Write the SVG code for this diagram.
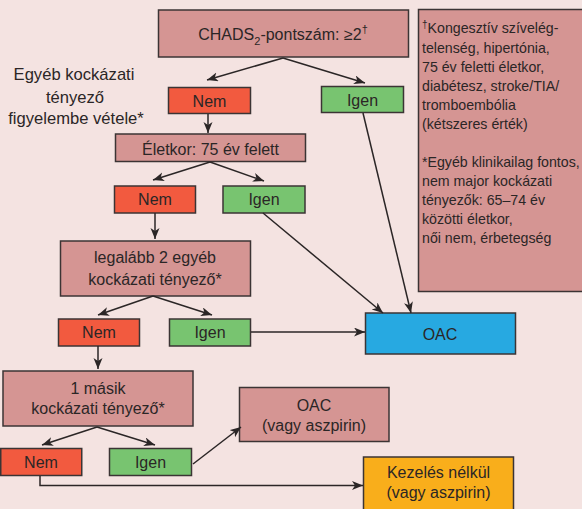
<svg xmlns="http://www.w3.org/2000/svg" width="582" height="509" viewBox="0 0 582 509">
<defs>
<style>
.bg{fill:#f4e3e1}
.box{stroke:#3b3434;stroke-width:1.5}
.pink{fill:#d59593}
.red{fill:#f25a3f}
.green{fill:#78c470}
.blue{fill:#27a9e1}
.orange{fill:#f9ae1b}
text{font-family:"Liberation Sans",Arial,sans-serif;fill:#2b2626}
.t{font-size:16px;text-anchor:middle}
.lbl{font-size:16.6px;text-anchor:middle}
.leg{font-size:14.2px}
.c line,.c polyline{stroke:#2b2626;stroke-width:1.5;fill:none}
</style>
<marker id="ah" markerUnits="userSpaceOnUse" markerWidth="12" markerHeight="10" refX="11" refY="4.5" orient="auto">
<path d="M0,0 L11,4.5 L0,9 L3,4.5 z" fill="#2b2626"/>
</marker>
</defs>
<rect class="bg" x="0" y="0" width="582" height="509"/>

<g id="chads">
<rect class="box pink" x="158.5" y="10" width="250" height="47"/>
<text class="t" x="283" y="40">CHADS<tspan font-size="11" dy="5">2</tspan><tspan dy="-5">-pontszám: ≥2</tspan><tspan font-size="11" dy="-7">†</tspan></text>
</g>

<g id="legend">
<rect class="box pink" x="418.5" y="9.5" width="200" height="282"/>
<text class="leg" x="422" y="33"><tspan font-size="10" dy="-5">†</tspan><tspan dy="5">Kongesztív szívelég-</tspan></text>
<text class="leg" x="422" y="53">telenség, hipertónia,</text>
<text class="leg" x="422" y="72">75 év feletti életkor,</text>
<text class="leg" x="422" y="91">diabétesz, stroke/TIA/</text>
<text class="leg" x="422" y="110">tromboembólia</text>
<text class="leg" x="422" y="129">(kétszeres érték)</text>
<text class="leg" x="422" y="167">*Egyéb klinikailag fontos,</text>
<text class="leg" x="422" y="186">nem major kockázati</text>
<text class="leg" x="422" y="205">tényezők: 65–74 év</text>
<text class="leg" x="422" y="224">közötti életkor,</text>
<text class="leg" x="422" y="243">női nem, érbetegség</text>
</g>

<g id="label-other">
<text class="lbl" x="74" y="80">Egyéb kockázati</text>
<text class="lbl" x="75" y="103">tényező</text>
<text class="lbl" x="76" y="124">figyelembe vétele*</text>
</g>

<g id="nem1">
<rect class="box red" x="168.5" y="87.5" width="82" height="26"/>
<text class="t" x="209.5" y="106.5">Nem</text>
</g>
<g id="igen1">
<rect class="box green" x="321.5" y="86.5" width="82" height="26"/>
<text class="t" x="362.5" y="105.5">Igen</text>
</g>

<g id="eletkor">
<rect class="box pink" x="115.5" y="134" width="190" height="27.5"/>
<text class="t" x="210.5" y="154.5">Életkor: 75 év felett</text>
</g>

<g id="nem2">
<rect class="box red" x="114.5" y="186" width="81" height="27"/>
<text class="t" x="155" y="205">Nem</text>
</g>
<g id="igen2">
<rect class="box green" x="223" y="186" width="82" height="27"/>
<text class="t" x="264" y="205">Igen</text>
</g>

<g id="legalabb">
<rect class="box pink" x="60.5" y="241" width="190" height="55"/>
<text class="t" x="155" y="263">legalább 2 egyéb</text>
<text class="t" x="155" y="285">kockázati tényező*</text>
</g>

<g id="nem3">
<rect class="box red" x="58.5" y="319" width="81" height="27"/>
<text class="t" x="99" y="338">Nem</text>
</g>
<g id="igen3">
<rect class="box green" x="169.5" y="319" width="81" height="27"/>
<text class="t" x="210" y="338">Igen</text>
</g>

<g id="oac">
<rect class="box blue" x="365.5" y="313" width="150" height="41"/>
<text class="t" x="440" y="340">OAC</text>
</g>

<g id="masik">
<rect class="box pink" x="3" y="371" width="190" height="55"/>
<text class="t" x="98" y="394">1 másik</text>
<text class="t" x="98" y="414">kockázati tényező*</text>
</g>

<g id="oac-aszpirin">
<rect class="box pink" x="239.5" y="387.5" width="149.5" height="54"/>
<text class="t" x="314" y="411">OAC</text>
<text class="t" x="314" y="431">(vagy aszpirin)</text>
</g>

<g id="nem4">
<rect class="box red" x="0.75" y="448.5" width="81" height="27"/>
<text class="t" x="41" y="467.5">Nem</text>
</g>
<g id="igen4">
<rect class="box green" x="109.5" y="448.5" width="82" height="27"/>
<text class="t" x="150.5" y="467.5">Igen</text>
</g>

<g id="kezeles">
<rect class="box orange" x="363.5" y="457" width="150" height="60"/>
<text class="t" x="438.5" y="478">Kezelés nélkül</text>
<text class="t" x="438.5" y="498">(vagy aszpirin)</text>
</g>

<g id="connectors" class="c">
<line x1="283" y1="58" x2="207" y2="80" marker-end="url(#ah)"/>
<line x1="283" y1="58" x2="365" y2="83" marker-end="url(#ah)"/>
<line x1="208" y1="114" x2="208" y2="133" marker-end="url(#ah)"/>
<line x1="210" y1="162" x2="153" y2="180" marker-end="url(#ah)"/>
<line x1="210" y1="162" x2="264" y2="181" marker-end="url(#ah)"/>
<line x1="155" y1="213" x2="155" y2="239" marker-end="url(#ah)"/>
<line x1="263" y1="213" x2="383" y2="313" marker-end="url(#ah)"/>
<line x1="363" y1="113" x2="411" y2="313" marker-end="url(#ah)"/>
<line x1="153" y1="296" x2="98" y2="315" marker-end="url(#ah)"/>
<line x1="153" y1="296" x2="212" y2="315" marker-end="url(#ah)"/>
<line x1="98" y1="346" x2="98" y2="369" marker-end="url(#ah)"/>
<line x1="251" y1="332" x2="365" y2="332" marker-end="url(#ah)"/>
<line x1="97" y1="427" x2="42" y2="445" marker-end="url(#ah)"/>
<line x1="97" y1="427" x2="155" y2="445" marker-end="url(#ah)"/>
<line x1="193" y1="464" x2="241" y2="427" marker-end="url(#ah)"/>
<polyline points="40,476 40,485.5 363,485.5" marker-end="url(#ah)"/>
</g>
</svg>
